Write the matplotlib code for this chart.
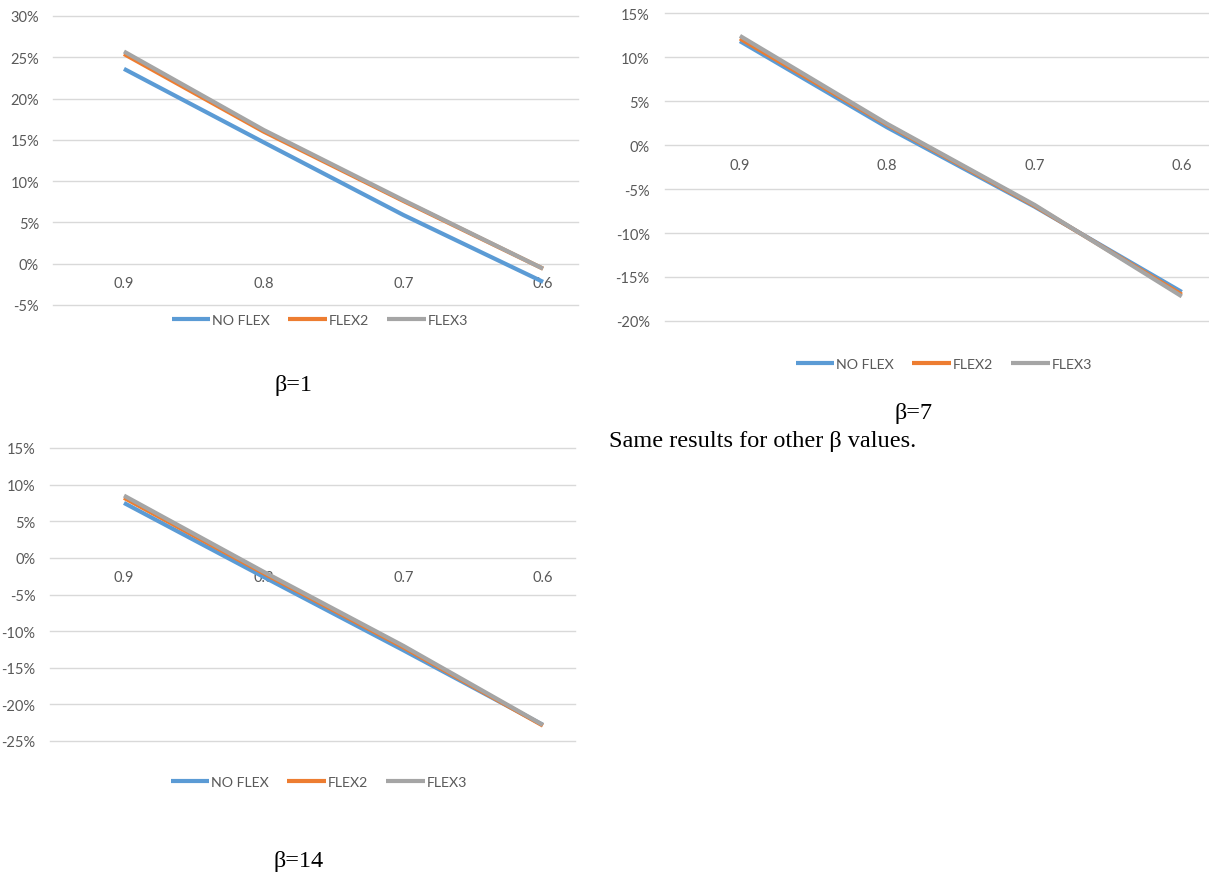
import matplotlib
matplotlib.use("Agg")
import matplotlib.pyplot as plt
from matplotlib.ticker import FuncFormatter

# category axis (decreasing share)
categories = ["0.9", "0.8", "0.7", "0.6"]
series_names = ["NO FLEX", "FLEX2", "FLEX3"]

# beta = 1
b1_noflex = [23.6, 14.7, 5.9, -2.2]
b1_flex2 = [25.4, 16.0, 7.6, -0.6]
b1_flex3 = [25.7, 16.2, 7.7, -0.6]

# beta = 7
b7_noflex = [11.8, 2.0, -7.0, -16.7]
b7_flex2 = [12.1, 2.3, -6.9, -17.0]
b7_flex3 = [12.4, 2.4, -6.8, -17.2]

# beta = 14
b14_noflex = [7.5, -2.6, -12.6, -22.8]
b14_flex2 = [8.2, -2.1, -12.2, -22.9]
b14_flex3 = [8.5, -1.9, -12.0, -22.8]

colors = ["#5B9BD5", "#ED7D31", "#A5A5A5"]
text_col = "#595959"
grid_col = "#D9D9D9"
tick_font = "Lato"
cap_font = "Liberation Serif"

W, H = 1209, 887
fig = plt.figure(figsize=(W / 100, H / 100), dpi=100)


def px_axes(left, top, right, bottom):
    # pixel box -> figure fraction
    return fig.add_axes([left / W, 1 - bottom / H, (right - left) / W, (bottom - top) / H])


def draw_panel(ax, data, ylim, xlim, ypad):
    x = list(range(len(categories)))
    lines = []
    for vals, c in zip(data, colors):
        ln, = ax.plot(x, vals, color=c, lw=3.0, solid_capstyle="butt", zorder=3)
        lines.append(ln)
    ax.set_ylim(*ylim)
    ax.set_xlim(*xlim)
    ax.set_yticks(range(ylim[0], ylim[1] + 1, 5))
    ax.yaxis.set_major_formatter(FuncFormatter(lambda v, p: "%d%%" % round(v)))
    ax.set_xticks(x)
    ax.set_xticklabels(categories)
    ax.spines["bottom"].set_position(("data", 0))
    for s in ax.spines.values():
        s.set_visible(False)
    ax.grid(axis="y", color=grid_col, lw=1.0)
    ax.set_axisbelow(True)
    for gl in ax.get_ygridlines():
        gl.set_clip_on(False)
    ax.tick_params(axis="y", length=0, pad=ypad, labelsize=10.5, labelcolor=text_col)
    ax.tick_params(axis="x", length=0, pad=9, labelsize=10.5, labelcolor=text_col)
    for lab in ax.get_xticklabels() + ax.get_yticklabels():
        lab.set_fontfamily(tick_font)
    return lines


def add_legend(lines, cx, cy):
    fig.legend(lines, series_names, loc="center", bbox_to_anchor=(cx / W, 1 - cy / H),
               ncol=3, frameon=False, handlelength=2.7, handletextpad=0.15,
               columnspacing=1.3, prop={"family": tick_font, "size": 10.2},
               labelcolor=text_col)


ax1 = px_axes(53, 17, 578, 306)
l1 = draw_panel(ax1, [b1_noflex, b1_flex2, b1_flex3], (-5, 30), (-0.508, 3.25), 10)
add_legend(l1, 320, 321)

ax2 = px_axes(665, 14, 1209, 322)
l2 = draw_panel(ax2, [b7_noflex, b7_flex2, b7_flex3], (-20, 15), (-0.509, 3.185), 11)
add_legend(l2, 944, 365)

ax3 = px_axes(50, 449, 575, 742)
l3 = draw_panel(ax3, [b14_noflex, b14_flex2, b14_flex3], (-25, 15), (-0.53, 3.23), 10.5)
add_legend(l3, 319, 783)

# captions under the panels
fig.text(293 / W, 1 - 386 / H, "β=1", family=cap_font, size=17.5, ha="center", va="center")
fig.text(914 / W, 1 - 414 / H, "β=7", family=cap_font, size=17.5, ha="center", va="center")
fig.text(609 / W, 1 - 442 / H, "Same results for other β values.", family=cap_font,
         size=17.5, ha="left", va="center")
fig.text(299 / W, 1 - 862 / H, "β=14", family=cap_font, size=17.5, ha="center", va="center")

fig.savefig("out.png", dpi=100)
